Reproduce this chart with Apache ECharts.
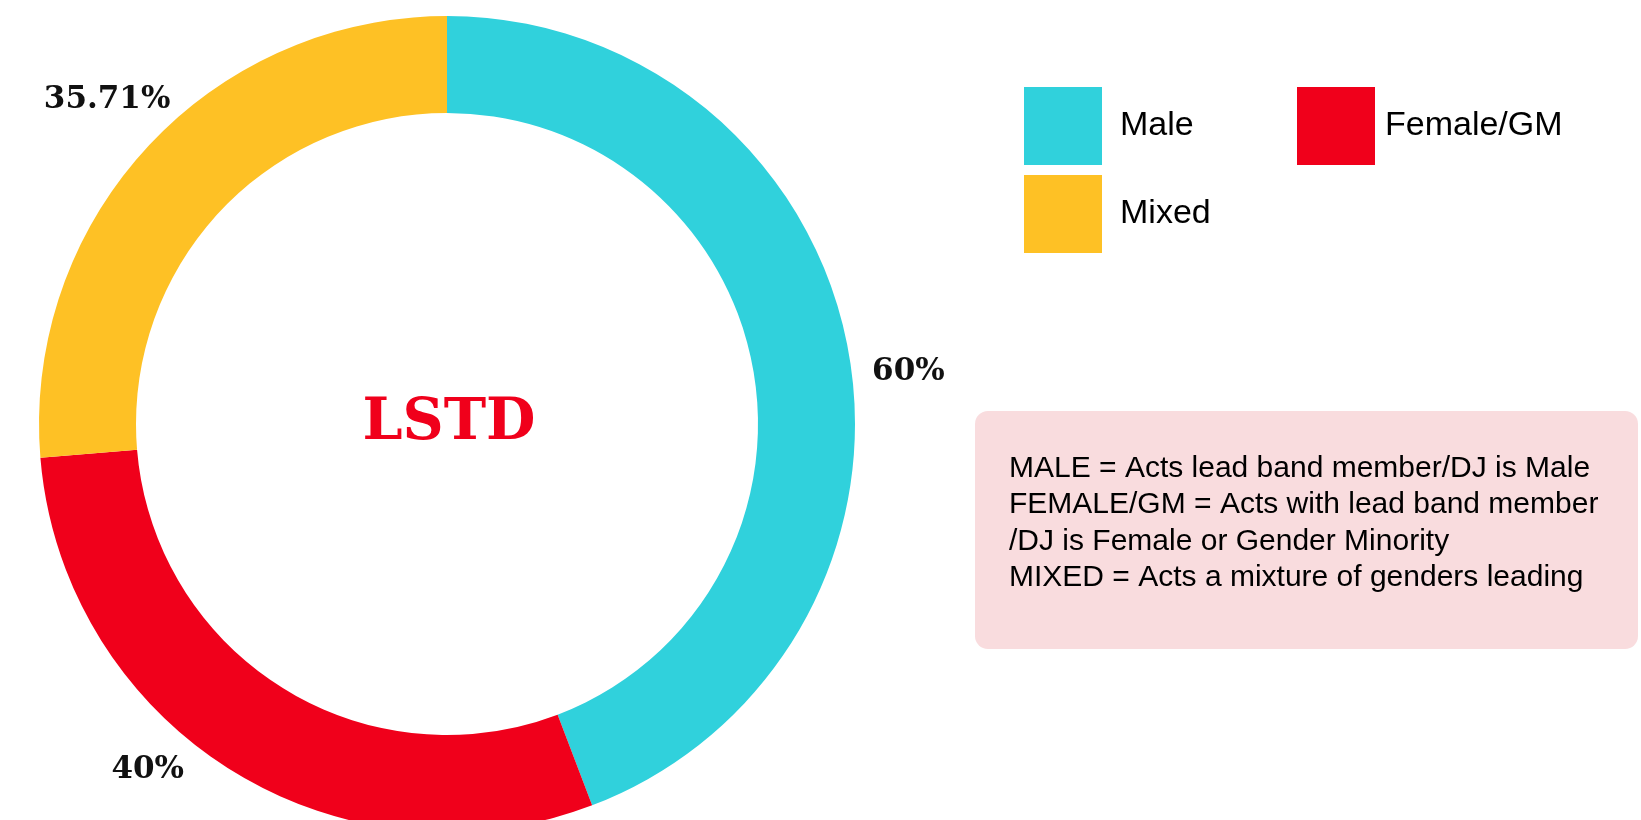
<!DOCTYPE html>
<html>
<head>
<meta charset="utf-8">
<script src="https://cdn.jsdelivr.net/npm/echarts@6/dist/echarts.min.js"></script>
<style>
  html, body { margin: 0; padding: 0; background: #fff; }
  #chart { width: 1641px; height: 820px; }
</style>
</head>
<body>
<div id="chart"></div>
<script>
const categories = ["Male", "Female/GM", "Mixed"];
const values = [60, 40, 35.71];
const colors = ["#30d1dc", "#f0001b", "#fec125"];
const centerLabel = "LSTD";
// legend is laid out in two columns
const legendColumns = [["Male", "Mixed"], ["Female/GM"]];
const notes = [
  ["MALE", "= Acts lead band member/DJ is Male"],
  ["FEMALE/GM", "= Acts with lead band member"],
  ["", "/DJ is Female or Gender Minority"],
  ["MIXED", "= Acts a mixture of genders leading"]
];

const cx = 447, cy = 424;
// labels sit off the ring, nudged to where the original put them
const labelRadius = 462;
const labelNudge = [[7, 31], [-53, -45], [0, -11]];

const total = values.reduce((a, b) => a + b, 0);
function labelPos(i) {
  let before = 0;
  for (let k = 0; k < i; k++) before += values[k];
  const t = ((before + values[i] / 2) / total) * Math.PI * 2;
  return [
    cx + Math.sin(t) * labelRadius + labelNudge[i][0],
    cy - Math.cos(t) * labelRadius + labelNudge[i][1]
  ];
}

let chart = echarts.init(document.getElementById("chart"));

let noteText = notes
  .map(n => (n[0] ? "{k|" + n[0] + "}{v| " + n[1] + "}" : "{v|" + n[1] + "}"))
  .join("\n");

let noteFont = { fontFamily: "Liberation Sans", fontSize: 30, lineHeight: 36.5 };

let legendLeft = [1024, 1297];
let legendTextGap = [13, 5];
let legends = legendColumns.map((col, i) => ({
  left: legendLeft[i],
  top: 87,
  padding: 0,
  orient: "vertical",
  icon: "rect",
  itemWidth: 78,
  itemHeight: 78,
  itemGap: 10,
  data: col,
  textStyle: {
    fontFamily: "Liberation Sans",
    fontSize: 34,
    color: "#000",
    padding: [0, 0, 0, legendTextGap[i]]
  }
}));

let option = {
  animation: false,
  backgroundColor: "#fff",
  legend: legends,
  graphic: [
    {
      type: "rect",
      shape: { x: 975, y: 411, width: 663, height: 238, r: 13 },
      style: { fill: "#f9dcde" },
      z: 1
    },
    {
      type: "text",
      x: 1009,
      y: 450,
      z: 2,
      style: {
        text: noteText,
        textVerticalAlign: "top",
        rich: {
          k: Object.assign({ color: "#000" }, noteFont),
          v: Object.assign({ color: "#f0001b" }, noteFont)
        }
      }
    },
    {
      type: "text",
      x: 449,
      y: 424,
      z: 5,
      style: {
        text: centerLabel,
        fontFamily: "DejaVu Serif",
        fontWeight: "bold",
        fontSize: 57,
        fill: "#f0001b",
        textAlign: "center",
        textVerticalAlign: "middle"
      }
    }
  ],
  series: [
    {
      type: "pie",
      center: [cx, cy],
      radius: [311, 408],
      startAngle: 90,
      clockwise: true,
      avoidLabelOverlap: false,
      itemStyle: { borderWidth: 0 },
      label: {
        show: true,
        position: "outside",
        formatter: "{c}%",
        fontFamily: "DejaVu Serif",
        fontWeight: "bold",
        fontSize: 31,
        color: "#111"
      },
      labelLine: { show: false },
      labelLayout: function (params) {
        let p = labelPos(params.dataIndex);
        return { x: p[0], y: p[1], align: "center", verticalAlign: "middle" };
      },
      data: categories.map((name, i) => ({
        name,
        value: values[i],
        itemStyle: { color: colors[i] }
      }))
    }
  ]
};

chart.setOption(option);
window.addEventListener("resize", () => {
  chart.resize();
});
</script>
</body>
</html>
